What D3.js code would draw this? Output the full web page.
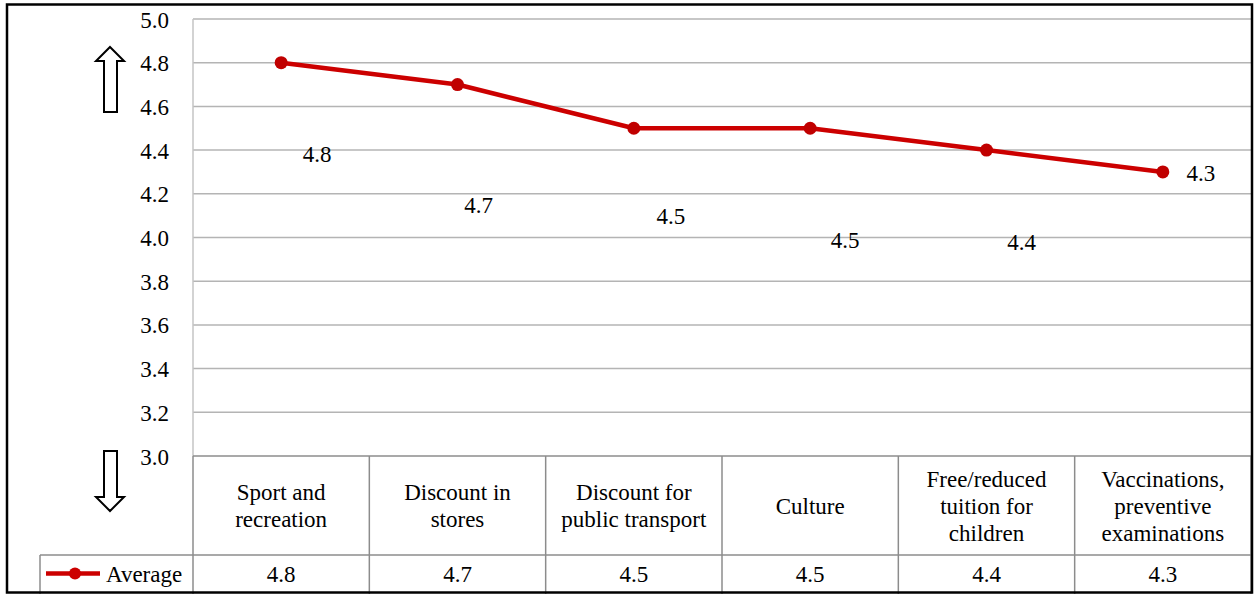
<!DOCTYPE html>
<html>
<head>
<meta charset="utf-8">
<script src="https://cdn.jsdelivr.net/npm/d3@7"></script>
<style>
  html, body { margin: 0; padding: 0; background: #fff; font-family: "Times New Roman", "Liberation Serif", serif; }
  svg { display: block; }
  svg text { font-family: "Times New Roman", "Liberation Serif", serif !important; }
</style>
</head>
<body>
<svg id="chart" width="1255" height="594" font-family="Times New Roman, Liberation Serif, serif"></svg>
<script>
// Benefits ranked by average score
const categories = [
  ["Sport and", "recreation"],
  ["Discount in", "stores"],
  ["Discount for", "public transport"],
  ["Culture"],
  ["Free/reduced", "tuition for", "children"],
  ["Vaccinations,", "preventive", "examinations"]
];
const averages = [4.8, 4.7, 4.5, 4.5, 4.4, 4.3];
const yTicks = [3.0, 3.2, 3.4, 3.6, 3.8, 4.0, 4.2, 4.4, 4.6, 4.8, 5.0];
const seriesName = "Average";

// Layout
const plotLeft = 193, plotRight = 1251, plotTop = 19, plotBottom = 456;
const catRowBottom = 555, tableBottom = 594, legendLeft = 40;
const fontFamily = "\"Times New Roman\", \"Liberation Serif\", serif";
const fontSize = "23px";
const red = "#cc0000";
// Data-label offsets from each point, in pixels
const labelOffset = [[36, 91], [21, 120], [37, 88], [35, 112], [35, 92], [38, 1]];

const svg = d3.select("#chart");
const idx = d3.range(categories.length);

const x = d3.scaleBand().domain(idx).range([plotLeft, plotRight]).padding(0);
const y = d3.scaleLinear().domain([3.0, 5.0]).range([plotBottom, plotTop]);

function styleText(sel) {
  return sel.attr("font-family", fontFamily)
    .style("font-family", fontFamily)
    .style("font-size", fontSize)
    .style("fill", "#000");
}

// Horizontal gridlines
svg.append("g")
  .selectAll("line")
  .data(yTicks.filter(t => t > 3.0))
  .join("line")
  .attr("x1", plotLeft).attr("x2", plotRight)
  .attr("y1", d => y(d)).attr("y2", d => y(d))
  .attr("stroke", "#b4b4b4").attr("stroke-width", 1.5);

// Left axis line of the plot area
svg.append("line")
  .attr("x1", plotLeft).attr("x2", plotLeft)
  .attr("y1", plotTop).attr("y2", plotBottom)
  .attr("stroke", "#c4c4c4").attr("stroke-width", 1.5);

// Y axis tick labels
const yAxis = d3.axisLeft(y).tickValues(yTicks).tickFormat(d3.format(".1f")).tickSize(0).tickPadding(0);
const gy = svg.append("g").attr("transform", `translate(169,0)`).call(yAxis);
gy.attr("font-family", fontFamily).attr("font-size", null);
gy.select(".domain").remove();
styleText(gy.selectAll("text")).attr("dy", "0.35em");

// Up / down hollow arrows beside the axis
const arrowUp = "M110,47 L124,61 L117,61 L117,112 L104,112 L104,61 L96,61 Z";
const arrowDown = "M104,451 L117,451 L117,497 L124,497 L110,511 L96,497 L104,497 Z";
svg.append("path").attr("d", arrowUp).attr("fill", "#fff").attr("stroke", "#000").attr("stroke-width", 2);
svg.append("path").attr("d", arrowDown).attr("fill", "#fff").attr("stroke", "#000").attr("stroke-width", 2);

// Data table grid
const tableStroke = "#8c8c8c";
const tg = svg.append("g").attr("stroke", tableStroke).attr("stroke-width", 1.5);
tg.append("line").attr("x1", plotLeft).attr("x2", plotRight).attr("y1", plotBottom).attr("y2", plotBottom);
tg.append("line").attr("x1", legendLeft).attr("x2", plotRight).attr("y1", catRowBottom).attr("y2", catRowBottom);
tg.append("line").attr("x1", legendLeft).attr("x2", legendLeft).attr("y1", catRowBottom).attr("y2", tableBottom);
tg.selectAll("line.col")
  .data(idx.concat([categories.length]))
  .join("line")
  .attr("class", "col")
  .attr("x1", d => d < categories.length ? x(d) : plotRight)
  .attr("x2", d => d < categories.length ? x(d) : plotRight)
  .attr("y1", plotBottom).attr("y2", tableBottom);

// Category labels
const lineH = 27;
const catMid = (plotBottom + catRowBottom) / 2;
styleText(svg.append("g")
  .selectAll("text")
  .data(idx)
  .join("text"))
  .attr("text-anchor", "middle")
  .each(function(i) {
    const lines = categories[i];
    const t = d3.select(this);
    lines.forEach((ln, k) => {
      t.append("tspan")
        .attr("x", x(i) + x.bandwidth() / 2)
        .attr("y", catMid + (k - (lines.length - 1) / 2) * lineH)
        .attr("dy", "0.35em")
        .text(ln);
    });
  });

// Value row
const valMid = (catRowBottom + tableBottom) / 2 - 1;
styleText(svg.append("g")
  .selectAll("text")
  .data(averages)
  .join("text"))
  .attr("x", (d, i) => x(i) + x.bandwidth() / 2)
  .attr("y", valMid)
  .attr("dy", "0.35em")
  .attr("text-anchor", "middle")
  .text(d => d3.format(".1f")(d));

// Legend key in the value row
const legY = valMid;
svg.append("line").attr("x1", 46).attr("x2", 100).attr("y1", legY).attr("y2", legY)
  .attr("stroke", red).attr("stroke-width", 4.5);
svg.append("circle").attr("cx", 75).attr("cy", legY).attr("r", 6).attr("fill", red);
styleText(svg.append("text")).attr("x", 106).attr("y", legY).attr("dy", "0.35em").text(seriesName);

// Series line
const line = d3.line().x((d, i) => x(i) + x.bandwidth() / 2).y(d => y(d));
svg.append("path")
  .datum(averages)
  .attr("d", line)
  .attr("fill", "none")
  .attr("stroke", red)
  .attr("stroke-width", 4.5)
  .attr("stroke-linejoin", "round");

svg.append("g")
  .selectAll("circle")
  .data(averages)
  .join("circle")
  .attr("cx", (d, i) => x(i) + x.bandwidth() / 2)
  .attr("cy", d => y(d))
  .attr("r", 6.5)
  .attr("fill", "#c00000");

// Data labels
styleText(svg.append("g")
  .selectAll("text")
  .data(averages)
  .join("text"))
  .attr("x", (d, i) => x(i) + x.bandwidth() / 2 + labelOffset[i][0])
  .attr("y", (d, i) => y(d) + labelOffset[i][1])
  .attr("dy", "0.35em")
  .attr("text-anchor", "middle")
  .text(d => d3.format(".1f")(d));

// Outer chart border
svg.append("rect")
  .attr("x", 7).attr("y", 4.5)
  .attr("width", 1245).attr("height", 588)
  .attr("fill", "none").attr("stroke", "#000").attr("stroke-width", 2.5);
</script>
</body>
</html>
